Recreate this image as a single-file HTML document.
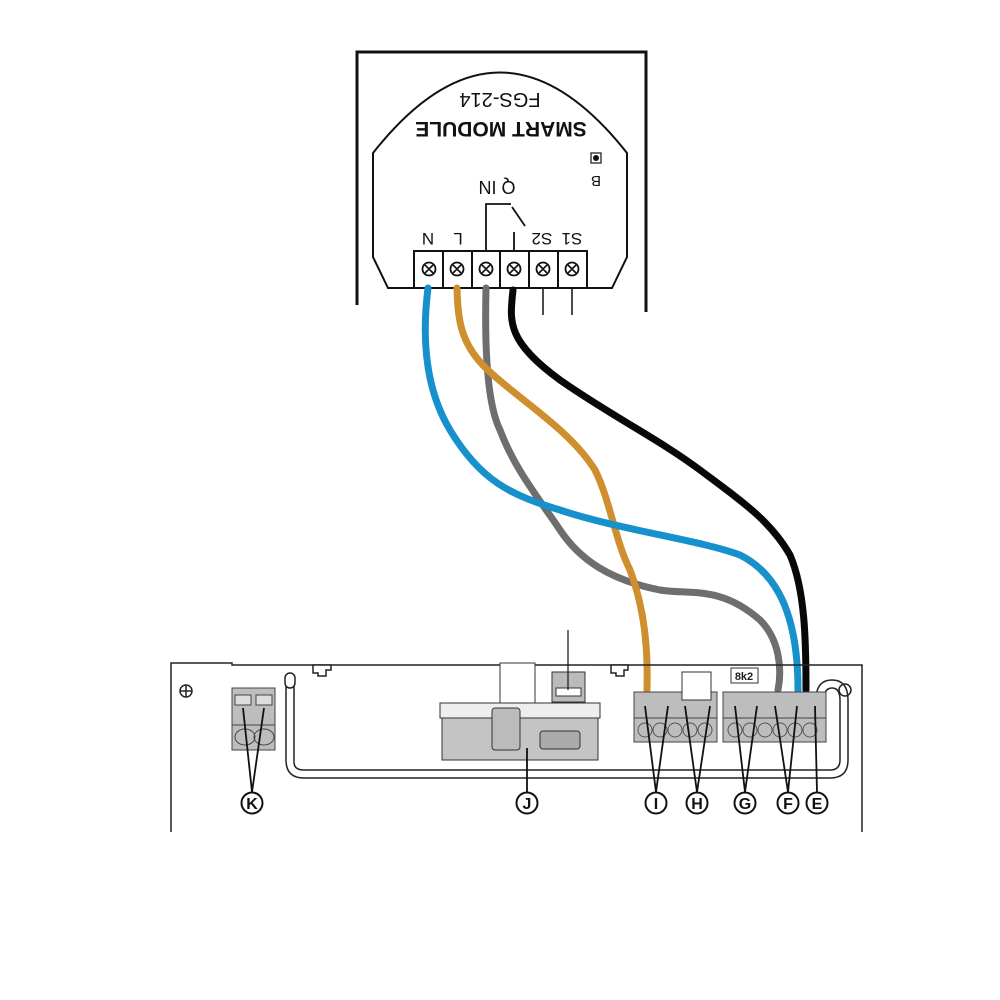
<!DOCTYPE html>
<html><head><style>body{margin:0;background:#fff}svg{display:block}</style></head><body>
<svg width="1000" height="1000" viewBox="0 0 1000 1000" xmlns="http://www.w3.org/2000/svg" font-family="Liberation Sans, sans-serif">
<rect width="1000" height="1000" fill="#fff"/>
<path d="M357 305 V52 H646 V312" fill="none" stroke="#111" stroke-width="3"/>
<path d="M388 288 L373 257 V153 Q500 -8 627 153 V257 L612 288 Z" fill="none" stroke="#111" stroke-width="2"/>
<g fill="#fff" stroke="#111" stroke-width="2">
<rect x="414" y="251" width="29" height="37"/><rect x="443" y="251" width="29" height="37"/><rect x="472" y="251" width="28" height="37"/><rect x="500" y="251" width="29" height="37"/><rect x="529" y="251" width="29" height="37"/><rect x="558" y="251" width="29" height="37"/>
</g>
<g fill="#fff" stroke="#111" stroke-width="1.8">
<circle cx="429" cy="269" r="6.5"/><circle cx="457" cy="269" r="6.5"/><circle cx="486" cy="269" r="6.5"/><circle cx="514" cy="269" r="6.5"/><circle cx="543" cy="269" r="6.5"/><circle cx="572" cy="269" r="6.5"/>
</g>
<g stroke="#111" stroke-width="1.6">
<path d="M425 265l8 8M433 265l-8 8M453 265l8 8M461 265l-8 8M482 265l8 8M490 265l-8 8M510 265l8 8M518 265l-8 8M539 265l8 8M547 265l-8 8M568 265l8 8M576 265l-8 8"/>
</g>
<path d="M486 251 V204 H511 M514 251 V232 M512 207 L525 226" fill="none" stroke="#111" stroke-width="1.8"/>
<path d="M543 288 V315 M572 288 V315" stroke="#111" stroke-width="1.5"/>
<g fill="#111" text-anchor="middle">
<text transform="translate(428,233) rotate(180)" font-size="17">N</text>
<text transform="translate(458,233) rotate(180)" font-size="17">L</text>
<text transform="translate(542,233) rotate(180)" font-size="17">S2</text>
<text transform="translate(572,233) rotate(180)" font-size="17">S1</text>
<text transform="translate(497,181) rotate(180)" font-size="18">Q IN</text>
<text transform="translate(501,122) rotate(180)" font-size="21" font-weight="bold">SMART MODULE</text>
<text transform="translate(500,93) rotate(180)" font-size="20">FGS-214</text>
<text transform="translate(596,176) rotate(180)" font-size="15">B</text>
</g>
<rect x="591" y="153" width="10" height="10" fill="#fff" stroke="#111" stroke-width="1.2"/><circle cx="596" cy="158" r="3" fill="#111"/>
<g fill="none" stroke-width="7" stroke-linecap="round" stroke-linejoin="round">
<path d="M486 288 C485 330 485 400 500 430 C515 470 540 500 560 530 C580 560 610 580 660 590 C690 595 720 585 760 620 C780 640 782 670 778 690" stroke="#6e6e6e"/>
<path d="M457 288 C458 320 460 345 490 372 C520 400 570 430 595 470 C610 500 615 540 630 570 C645 610 648 650 647 690" stroke="#cf8f2e"/>
<path d="M428 288 C424 320 420 380 450 430 C480 480 510 495 560 510 C620 530 700 540 740 555 C780 575 798 620 798 690" stroke="#1691cc"/>
<path d="M513 290 C510 320 505 340 560 380 C610 415 660 440 700 470 C740 500 770 520 790 555 C805 590 806 640 806 690" stroke="#080808"/>
</g>
<g fill="none" stroke="#222" stroke-width="1.5">
<path d="M171 832 V663 H232 V665 H862 V832"/>
<path d="M313 665 V673 H318 V676 H326 V670 H331 V665 Z M611 665 V673 H616 V676 H624 V670 H628 V665 Z" fill="#fff"/>
<circle cx="186" cy="691" r="6"/><path d="M180 691h12M186 685v12"/>
<path d="M286 686 V760 Q286 778 304 778 H830 Q848 778 848 760 V700 Q848 680 832 680 Q816 680 816 700 V705"/>
<path d="M294 686 V762 Q294 770 304 770 H830 Q840 770 840 760 V700 Q840 688 832 688 Q824 688 824 700 V705"/>
<rect x="285" y="673" width="10" height="15" rx="5" fill="#fff"/>
</g>
<circle cx="845" cy="690" r="6" fill="none" stroke="#222" stroke-width="1.5"/>
<rect x="232" y="688" width="43" height="62" fill="#bdbdbd" stroke="#444"/>
<rect x="235" y="695" width="16" height="10" fill="#ddd" stroke="#444"/><rect x="256" y="695" width="16" height="10" fill="#ddd" stroke="#444"/>
<path d="M232 725 H275" stroke="#444"/><ellipse cx="245" cy="737" rx="10" ry="8" fill="none" stroke="#444"/><ellipse cx="264" cy="737" rx="10" ry="8" fill="none" stroke="#444"/>
<rect x="500" y="663" width="35" height="40" fill="#fff" stroke="#333"/>
<rect x="552" y="672" width="33" height="30" fill="#bbb" stroke="#333"/><rect x="556" y="688" width="25" height="8" fill="#fff" stroke="#333"/>
<path d="M568 630 V690" stroke="#222" stroke-width="1.3"/>
<rect x="440" y="703" width="160" height="15" fill="#eee" stroke="#333"/>
<rect x="442" y="718" width="156" height="42" fill="#c4c4c4" stroke="#333"/>
<rect x="492" y="708" width="28" height="42" rx="3" fill="#bbb" stroke="#333"/>
<rect x="540" y="731" width="40" height="18" rx="3" fill="#aaa" stroke="#333"/>
<rect x="634" y="692" width="83" height="50" fill="#bdbdbd" stroke="#444"/>
<rect x="723" y="692" width="103" height="50" fill="#bdbdbd" stroke="#444"/>
<rect x="682" y="672" width="29" height="28" fill="#fff" stroke="#333"/>
<rect x="731" y="668" width="27" height="15" fill="#fff" stroke="#333"/>
<text x="744" y="680" font-size="11" font-weight="bold" text-anchor="middle" fill="#222">8k2</text>
<path d="M634 718 H717 M723 718 H826" stroke="#444"/>
<g fill="none" stroke="#555"><circle cx="645" cy="730" r="7"/><circle cx="660" cy="730" r="7"/><circle cx="675" cy="730" r="7"/><circle cx="690" cy="730" r="7"/><circle cx="705" cy="730" r="7"/><circle cx="735" cy="730" r="7"/><circle cx="750" cy="730" r="7"/><circle cx="765" cy="730" r="7"/><circle cx="780" cy="730" r="7"/><circle cx="795" cy="730" r="7"/><circle cx="810" cy="730" r="7"/></g>
<g stroke="#111" stroke-width="1.8" fill="none">
<path d="M243 708 L252 792 L264 708"/>
<path d="M527 748 V792"/>
<path d="M645 706 L656 792 L668 706"/>
<path d="M685 706 L697 792 L710 706"/>
<path d="M735 706 L745 792 L757 706"/>
<path d="M775 706 L788 792 L797 706"/>
<path d="M815 706 L817 792"/>
</g>
<g fill="#fff" stroke="#111" stroke-width="2"><circle cx="252" cy="803" r="10.5"/><circle cx="527" cy="803" r="10.5"/><circle cx="656" cy="803" r="10.5"/><circle cx="697" cy="803" r="10.5"/><circle cx="745" cy="803" r="10.5"/><circle cx="788" cy="803" r="10.5"/><circle cx="817" cy="803" r="10.5"/></g>
<g font-size="16" font-weight="bold" text-anchor="middle" fill="#111"><text x="252" y="809">K</text><text x="527" y="809">J</text><text x="656" y="809">I</text><text x="697" y="809">H</text><text x="745" y="809">G</text><text x="788" y="809">F</text><text x="817" y="809">E</text></g>
</svg>
</body></html>
